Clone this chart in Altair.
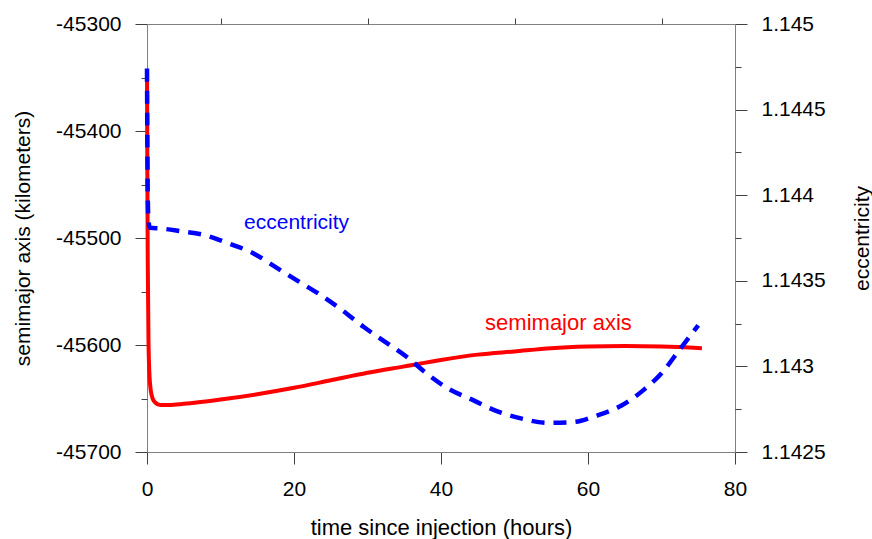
import altair as alt
import pandas as pd

FONT = "Liberation Sans"

# semimajor axis (km) vs time since injection (hours)
t_sma = [0, 0.05, 0.1, 0.2, 0.35, 0.6, 1.0, 1.8, 3, 5, 10, 15, 20, 25, 30, 35,
         40, 45, 50, 55, 60, 65, 70, 75.5]
sma = [-45348, -45440, -45520, -45595, -45630, -45646, -45653, -45656, -45656,
       -45655, -45651, -45646, -45640, -45633, -45626, -45620, -45614, -45609,
       -45606, -45603, -45601.5, -45601, -45601.5, -45603]

# eccentricity vs time since injection (hours)
t_ecc = [0, 0.05, 0.1, 0.2, 0.4, 2, 4.5, 8, 11, 14.5, 17.5, 20.5, 23.5, 26.5,
         29.5, 32.5, 35.5, 38, 41, 44.5, 47.5, 51, 54.5, 58, 61, 64.5, 67.5,
         70, 72.5, 75]
ecc = [1.14474, 1.1443, 1.14400, 1.14385, 1.14381, 1.143805, 1.14379, 1.143765,
       1.14372, 1.14366, 1.14358, 1.14350, 1.14342, 1.14333, 1.14323, 1.14314,
       1.14305, 1.14296, 1.14287, 1.14280, 1.14274, 1.142695, 1.14267,
       1.142675, 1.14271, 1.14277, 1.14286, 1.14296, 1.14310, 1.14324]

# axis ticks
x_major = [0, 20, 40, 60, 80]
x_minor = [10, 30, 50, 70]
sma_major = [-45700, -45600, -45500, -45400, -45300]
sma_minor = [-45650, -45550, -45450, -45350]
ecc_major = [1.1425, 1.143, 1.1435, 1.144, 1.1445, 1.145]
ecc_minor = [1.14275, 1.14325, 1.14375, 1.14425, 1.14475]

# in-plot labels
sma_label = {"t": [46.0], "v": [-45579], "txt": ["semimajor axis"]}
ecc_label = {"t": [13.2], "v": [1.143838], "txt": ["eccentricity"]}

title_text = "(semimajor axis and eccentricity of the trajectory after the TLI)"

df_sma = pd.DataFrame({"t": t_sma, "v": sma})
df_ecc = pd.DataFrame({"t": t_ecc, "v": ecc})

xs = alt.Scale(domain=[0, 80], nice=False, zero=False)
ys_l = alt.Scale(domain=[-45700, -45300], nice=False, zero=False)
ys_r = alt.Scale(domain=[1.1425, 1.145], nice=False, zero=False)

LBL = "'' + datum.value"

red = alt.Chart(df_sma).mark_line(color="#ff0000", strokeWidth=4,
                                  interpolate="monotone").encode(
    x=alt.X("t:Q", scale=xs,
            axis=alt.Axis(values=x_major, tickSize=12, labelPadding=14,
                          labelFlush=False,
                          title="time since injection (hours)",
                          titleFontSize=22,
                          titleX=294, titleY=75, titleAlign="center",
                          titleBaseline="middle")),
    y=alt.Y("v:Q", scale=ys_l,
            axis=alt.Axis(orient="left", values=sma_major, tickSize=12,
                          labelPadding=14, labelExpr=LBL, labelFlush=False,
                          title="semimajor axis (kilometers)",
                          titleX=-124, titleY=214, titleAlign="center",
                          titleBaseline="middle")),
)

red_lbl = alt.Chart(pd.DataFrame(sma_label)).mark_text(
    align="left", baseline="middle", color="#ff0000", fontSize=22, font=FONT
).encode(
    x=alt.X("t:Q", scale=xs,
            axis=alt.Axis(values=x_minor, tickSize=6, labels=False,
                          domain=False, title=None)),
    y=alt.Y("v:Q", scale=ys_l,
            axis=alt.Axis(orient="left", values=sma_minor, tickSize=6,
                          labels=False, domain=False, title=None)),
    text="txt:N",
)

blue = alt.Chart(df_ecc).mark_line(color="#0000ff", strokeWidth=4.5,
                                   strokeDash=[13, 9],
                                   interpolate="monotone").encode(
    x=alt.X("t:Q", scale=xs, axis=None),
    y=alt.Y("v:Q", scale=ys_r,
            axis=alt.Axis(orient="right", values=ecc_major, tickSize=12,
                          labelPadding=14, labelExpr=LBL, labelFlush=False,
                          title="eccentricity", titleAngle=270,
                          titleX=127, titleY=214, titleAlign="center",
                          titleBaseline="middle")),
)

blue_lbl = alt.Chart(pd.DataFrame(ecc_label)).mark_text(
    align="left", baseline="middle", color="#0000ff", fontSize=21, font=FONT
).encode(
    x=alt.X("t:Q", scale=xs, axis=None),
    y=alt.Y("v:Q", scale=ys_r,
            axis=alt.Axis(orient="right", values=ecc_minor, tickSize=6,
                          labels=False, domain=False, title=None)),
    text="txt:N",
)

chart = alt.layer(red, red_lbl, blue, blue_lbl).resolve_scale(
    y="independent"
).resolve_axis(
    x="independent", y="independent"
).properties(
    width=588,
    height=428,
    padding={"left": 147, "top": 24, "right": 137, "bottom": 87},
    autosize=alt.AutoSizeParams(type="none"),
    title=alt.TitleParams(text=title_text, fontSize=22, font=FONT,
                          fontWeight="normal", anchor="middle",
                          baseline="bottom", offset=4, dy=12.5, color="black"),
    background="white",
).configure_view(
    stroke="#808080", strokeWidth=1
).configure_axis(
    grid=False,
    labelFont=FONT, labelFontSize=21, labelColor="black",
    titleFont=FONT, titleFontSize=21, titleFontWeight="normal",
    titleColor="black",
    domainColor="#808080", domainWidth=1,
    tickColor="#404040", tickWidth=1,
)

chart.save("out.html", embed_options={"renderer": "svg", "actions": False})
